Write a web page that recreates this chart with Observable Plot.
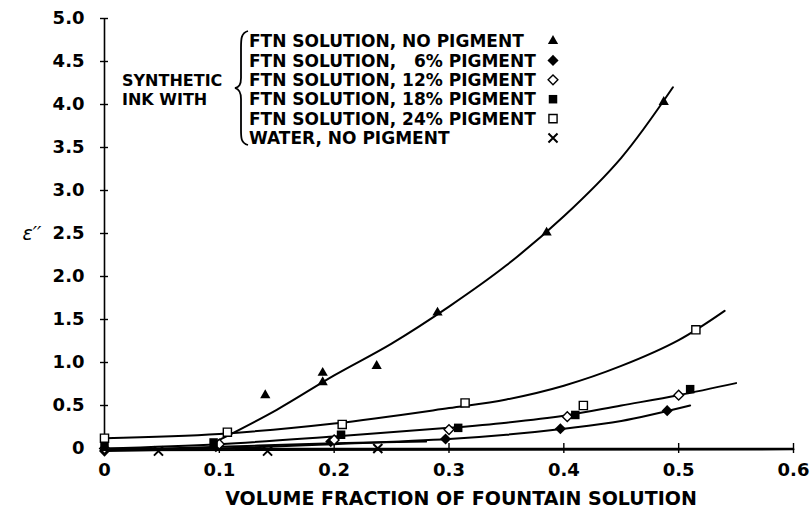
<!DOCTYPE html>
<html>
<head>
<meta charset="utf-8">
<script src="https://cdn.jsdelivr.net/npm/d3@7"></script>
<script src="https://cdn.jsdelivr.net/npm/@observablehq/plot@0.6"></script>
<style>
  body { margin: 0; background: #fff; }
  #chart { position: relative; width: 811px; height: 519px; }
  #chart svg { position: absolute; left: 0; top: 0; }
</style>
</head>
<body>
<div id="chart"></div>
<script>
// Axis ticks and their labels
const xTicks = [0, 0.1, 0.2, 0.3, 0.4, 0.5, 0.6];
const xTickLabels = ["0", "0.1", "0.2", "0.3", "0.4", "0.5", "0.6"];
const yTicks = [0, 0.5, 1, 1.5, 2, 2.5, 3, 3.5, 4, 4.5, 5];
const yTickLabels = ["0", "0.5", "1.0", "1.5", "2.0", "2.5", "3.0", "3.5", "4.0", "4.5", "5.0"];

// Measured loss factor ε'' vs. volume fraction of fountain solution
const noPigment = [[0.14, 0.62], [0.19, 0.88], [0.19, 0.77], [0.237, 0.96], [0.29, 1.58], [0.385, 2.51], [0.487, 4.03]];
const pig6 = [[0, -0.03], [0.097, 0.02], [0.197, 0.08], [0.297, 0.11], [0.397, 0.23], [0.49, 0.44]];
const pig12 = [[0, 0.0], [0.1, 0.05], [0.2, 0.1], [0.3, 0.22], [0.403, 0.37], [0.5, 0.62]];
const pig18 = [[0, 0.02], [0.095, 0.07], [0.206, 0.16], [0.308, 0.24], [0.41, 0.39], [0.51, 0.69]];
const pig24 = [[0, 0.12], [0.107, 0.19], [0.207, 0.28], [0.314, 0.53], [0.417, 0.5], [0.515, 1.38]];
const water = [[0.047, -0.03], [0.142, -0.03], [0.238, 0.0]];

// Hand-fitted curves through each series
const noPigmentFit = [[0.1, 0.1], [0.15, 0.45], [0.2, 0.85], [0.25, 1.22], [0.3, 1.65], [0.35, 2.13], [0.4, 2.7], [0.45, 3.38], [0.495, 4.2]];
const pig24Fit = [[0, 0.12], [0.1, 0.17], [0.2, 0.29], [0.3, 0.47], [0.35, 0.57], [0.4, 0.73], [0.45, 0.96], [0.5, 1.26], [0.54, 1.6]];
const pig18Fit = [[0, 0.0], [0.1, 0.05], [0.2, 0.14], [0.3, 0.24], [0.35, 0.3], [0.4, 0.38], [0.45, 0.5], [0.5, 0.62], [0.55, 0.76]];
const pig12Fit = [[0, -0.02], [0.1, 0.02], [0.2, 0.06], [0.28, 0.08]];
const pig6Fit = [[0, -0.03], [0.1, 0.0], [0.2, 0.05], [0.3, 0.11], [0.35, 0.16], [0.4, 0.23], [0.45, 0.32], [0.51, 0.5]];
const waterFit = [[0, -0.02], [0.6, -0.01]];

// Legend entries
const seriesNames = [
  "FTN SOLUTION, NO PIGMENT",
  "FTN SOLUTION,   6% PIGMENT",
  "FTN SOLUTION, 12% PIGMENT",
  "FTN SOLUTION, 18% PIGMENT",
  "FTN SOLUTION, 24% PIGMENT",
  "WATER, NO PIGMENT"
];
const groupLabel = ["SYNTHETIC", "INK WITH"];

// Marker style per series: [symbol, radius, fill, stroke, strokeWidth]
const styles = [
  ["triangle", 3.8, "black", "none", 0],
  ["diamond2", 5.0, "black", "none", 0],
  ["diamond2", 4.4, "white", "black", 1.4],
  ["square", 4.8, "black", "none", 0],
  ["square", 4.6, "white", "black", 1.4],
  ["times", 4.2, "none", "black", 2]
];
const seriesData = [noPigment, pig6, pig12, pig18, pig24, water];
const fits = [noPigmentFit, pig24Fit, pig18Fit, pig12Fit, pig6Fit, waterFit];

const font = "'DejaVu Sans', sans-serif";

const marks = [
  // axes lines
  Plot.ruleY([0], {x1: 0, x2: 0.6, stroke: "black", strokeWidth: 1.6}),
  Plot.ruleX([0], {y1: 0, y2: 5, stroke: "black", strokeWidth: 1.6}),
  // ticks crossing the axes
  Plot.ruleY(yTicks, {x1: 0, x2: 0, insetLeft: -4, insetRight: -4, stroke: "black", strokeWidth: 1.4}),
  Plot.ruleX(xTicks, {y1: 0, y2: 0, insetTop: -5, insetBottom: -5, stroke: "black", strokeWidth: 1.4}),
  Plot.axisX({ticks: xTicks, tickSize: 0, tickPadding: 15, tickFormat: (d, i) => xTickLabels[i], label: null,
    fontSize: 18, fontWeight: "bold", fontFamily: font, letterSpacing: 1}),
  Plot.axisY({ticks: yTicks, tickSize: 0, tickPadding: 20, tickFormat: (d, i) => yTickLabels[i], label: null,
    fontSize: 18, fontWeight: "bold", fontFamily: font, letterSpacing: 1}),
  Plot.text(["VOLUME FRACTION OF FOUNTAIN SOLUTION"], {frameAnchor: "bottom", dy: 56, dx: 12,
    fontSize: 19, fontWeight: "bold", fontFamily: font, text: d => d}),
  Plot.text(["ε′′"], {frameAnchor: "left", dx: -82, fontSize: 19, fontStyle: "italic", fontFamily: font, text: d => d}),
  ...fits.map(f => Plot.line(f, {x: d => d[0], y: d => d[1], curve: "catmull-rom", stroke: "black", strokeWidth: 2})),
  ...seriesData.map((s, i) => {
    const [symbol, r, fill, stroke, sw] = styles[i];
    return Plot.dot(s, {x: d => d[0], y: d => d[1], symbol, r, fill, stroke, strokeWidth: sw});
  })
];

const chart = Plot.plot({
  width: 811,
  height: 519,
  marginLeft: 104,
  marginRight: 18,
  marginTop: 18,
  marginBottom: 71,
  x: {domain: [0, 0.6]},
  y: {domain: [0, 5]},
  style: {background: "white", color: "black", overflow: "visible"},
  marks
});
document.getElementById("chart").appendChild(chart);

// Legend block: group label, brace, entries and symbols
const legend = d3.select("#chart").append("svg")
  .attr("width", 811).attr("height", 519)
  .style("pointer-events", "none")
  .attr("font-family", font).attr("font-weight", "bold");

const rowY = i => 41 + i * 19.4;
legend.selectAll("text.name").data(seriesNames).join("text")
  .attr("x", 249).attr("y", (d, i) => rowY(i))
  .attr("dy", "0.36em").attr("font-size", 17)
  .style("white-space", "pre").attr("xml:space", "preserve")
  .text(d => d);
legend.selectAll("text.group").data(groupLabel).join("text")
  .attr("x", 122).attr("y", (d, i) => 80 + i * 19.4)
  .attr("dy", "0.36em").attr("font-size", 16)
  .text(d => d);
legend.append("path")
  .attr("d", "M248,31 C241,33 241,39 241,48 L241,78 C241,85 239,87 235,88 C239,89 241,92 241,99 L241,130 C241,138 241,143 248,145")
  .attr("fill", "none").attr("stroke", "black").attr("stroke-width", 1.8);

const symbolTypes = {triangle: d3.symbolTriangle, diamond2: d3.symbolDiamond2, square: d3.symbolSquare, times: d3.symbolTimes};
legend.selectAll("path.sym").data(styles).join("path")
  .attr("transform", (d, i) => `translate(553,${rowY(i)})`)
  .attr("d", d => d3.symbol(symbolTypes[d[0]], d[1] * d[1] * Math.PI)())
  .attr("fill", d => d[2]).attr("stroke", d => d[3]).attr("stroke-width", d => d[4]);
</script>
</body>
</html>
